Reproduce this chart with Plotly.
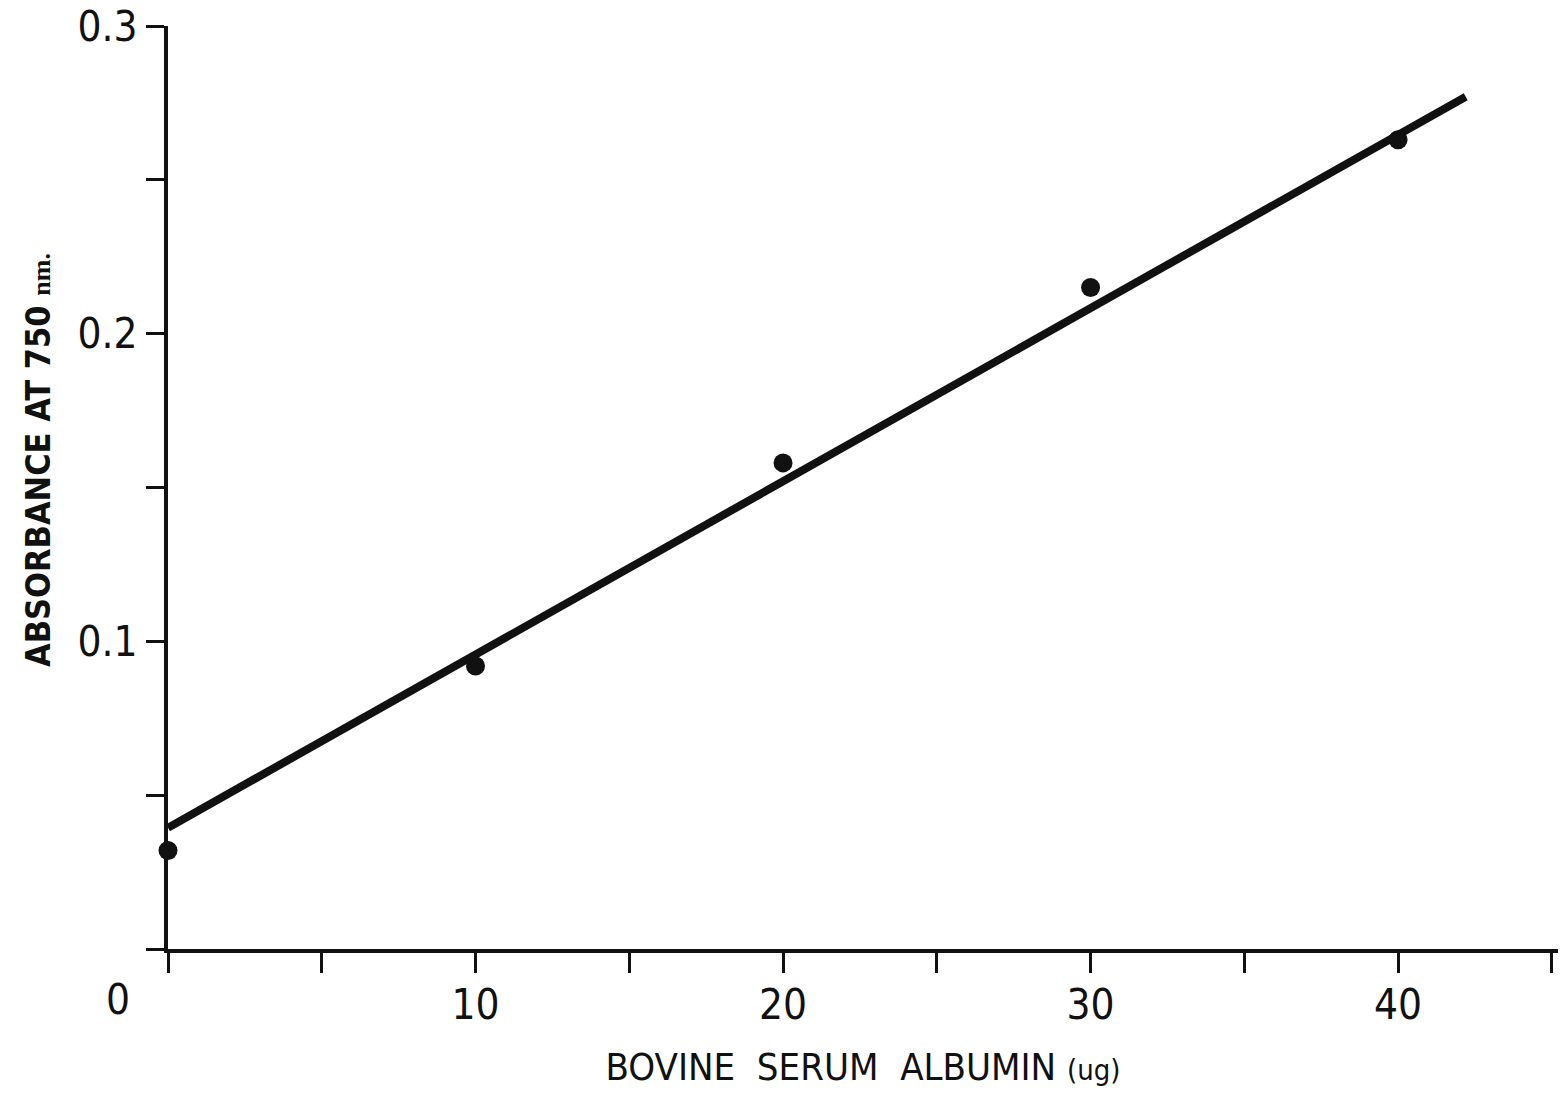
import plotly.graph_objects as go

# Data
bsa_ug = [0, 10, 20, 30, 40]
absorbance = [0.032, 0.092, 0.158, 0.215, 0.263]

fit_x = [0, 42.2]
fit_y = [0.0394, 0.277]

x_tickvals = [0, 5, 10, 15, 20, 25, 30, 35, 40, 45]
x_ticktext = ["", "", "10", "", "20", "", "30", "", "40", ""]
y_tickvals = [0, 0.05, 0.1, 0.15, 0.2, 0.25, 0.3]
y_ticktext = ["", "", "0.1", "", "0.2", "", "0.3"]

FONT = "Liberation Sans Narrow, DejaVu Sans Condensed, Arial Narrow, sans-serif"
INK = "#111111"

L, R, T, B = 168, 10, 26, 145
W, H = 1568, 1094

fig = go.Figure()
fig.add_trace(go.Scatter(x=fit_x, y=fit_y, mode="lines",
                         line=dict(color=INK, width=8),
                         showlegend=False, hoverinfo="skip"))
fig.add_trace(go.Scatter(x=bsa_ug, y=absorbance, mode="markers",
                         marker=dict(color=INK, size=19),
                         showlegend=False, cliponaxis=False))

fig.update_layout(
    width=W, height=H,
    margin=dict(l=L, r=R, t=T, b=B),
    paper_bgcolor="white", plot_bgcolor="white",
    font=dict(family=FONT, color=INK),
    xaxis=dict(range=[0, 45.2], showgrid=False, zeroline=False, automargin=False,
               showline=True, linecolor=INK, linewidth=4,
               ticks="outside", ticklen=20, tickwidth=3, tickcolor=INK,
               tickvals=x_tickvals, ticktext=x_ticktext,
               ticklabeloverflow="allow", ticklabelstandoff=-4,
               tickfont=dict(size=42, family=FONT, color=INK),
               title=dict(text="BOVINE  SERUM  ALBUMIN <span style='font-size:29px'>(ug)</span>",
                          font=dict(size=38, family=FONT, color=INK), standoff=26)),
    yaxis=dict(range=[0, 0.3], showgrid=False, zeroline=False, automargin=False,
               showline=True, linecolor=INK, linewidth=4,
               ticks="outside", ticklen=18, tickwidth=3, tickcolor=INK,
               tickvals=y_tickvals, ticktext=y_ticktext,
               ticklabeloverflow="allow",
               tickfont=dict(size=42, family=FONT, color=INK)),
)

fig.add_annotation(x=0, y=0, xref="x", yref="y", text="0", showarrow=False,
                   xshift=-50, yshift=-50, font=dict(size=42, family=FONT, color=INK))

fig.add_annotation(xref="paper", yref="paper",
                   x=(38 - L) / (W - L - R), y=(H - B - 460) / (H - B - T),
                   xanchor="center", yanchor="middle", showarrow=False,
                   text="<b>ABSORBANCE AT 750</b> <span style='font-size:26px;font-family:Liberation Serif'><b>nm.</b></span>",
                   textangle=-90, font=dict(size=34, family=FONT, color=INK))

fig.write_html("out.html")
